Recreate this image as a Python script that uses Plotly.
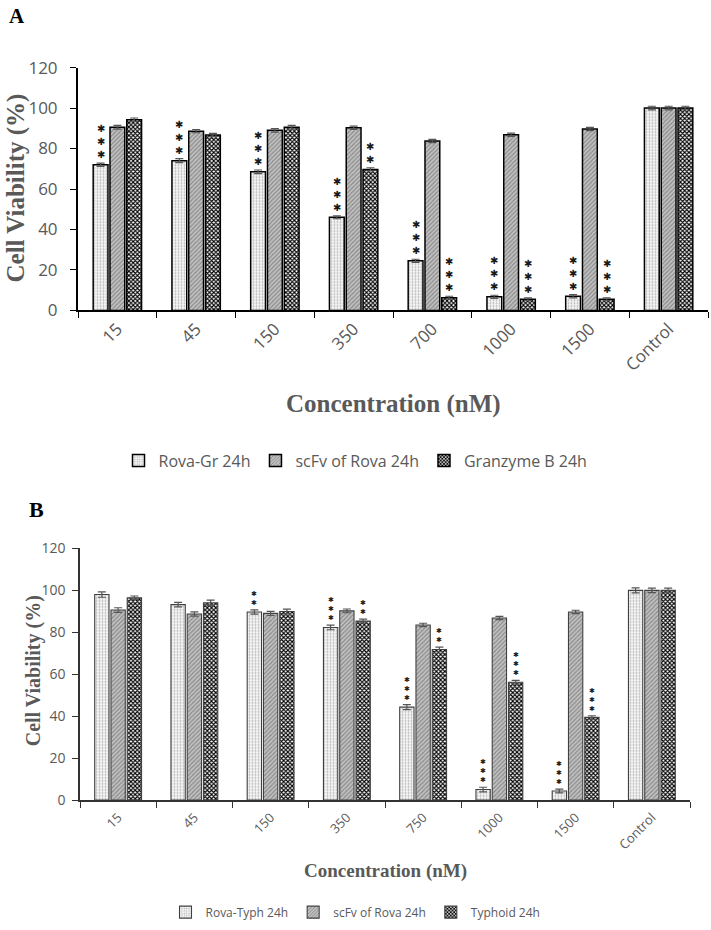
import plotly.graph_objects as go

# ---------------- data ----------------
cats_a = ["15", "45", "150", "350", "700", "1000", "1500", "Control"]
rova_gr = [72.0, 74.0, 68.5, 46.0, 24.5, 6.7, 7.0, 100.0]
scfv_a = [90.5, 88.6, 89.0, 90.3, 83.7, 86.8, 89.7, 100.0]
granzyme = [94.2, 86.7, 90.5, 69.7, 6.3, 5.5, 5.5, 100.0]
rova_gr_err = [0.8, 1.0, 0.9, 0.7, 0.8, 0.8, 0.8, 0.9]
scfv_a_err = [0.9, 0.8, 0.9, 0.8, 0.8, 0.8, 0.8, 0.9]
granzyme_err = [0.9, 0.8, 0.9, 0.8, 0.7, 0.7, 0.7, 0.9]

cats_b = ["15", "45", "150", "350", "750", "1000", "1500", "Control"]
rova_typh = [98.0, 93.2, 89.7, 82.3, 44.3, 5.0, 4.3, 100.0]
scfv_b = [90.6, 88.7, 89.0, 90.2, 83.5, 86.8, 89.7, 100.0]
typhoid = [96.5, 94.0, 89.9, 85.4, 71.8, 56.2, 39.4, 100.0]
rova_typh_err = [1.3, 1.1, 1.0, 1.1, 1.2, 1.1, 0.9, 1.2]
scfv_b_err = [1.1, 1.0, 1.0, 0.9, 0.8, 0.8, 0.8, 1.1]
typhoid_err = [0.8, 1.3, 1.1, 0.9, 1.1, 0.9, 0.8, 1.1]

names_a = ["Rova-Gr 24h", "scFv of Rova 24h", "Granzyme B 24h"]
names_b = ["Rova-Typh 24h", "scFv of Rova 24h", "Typhoid 24h"]

# significance marks: (category index, series index, number of stars)
stars_a = [(0, 0, 3), (1, 0, 3), (2, 0, 3), (3, 0, 3), (3, 2, 2), (4, 0, 3), (4, 2, 3),
           (5, 0, 3), (5, 2, 3), (6, 0, 3), (6, 2, 3)]
stars_b = [(2, 0, 2), (3, 0, 3), (3, 2, 2), (4, 0, 3), (4, 2, 2), (5, 0, 3), (5, 2, 3),
           (6, 0, 3), (6, 2, 3)]

# ---------------- layout geometry ----------------
W, H = 711, 930
def fx(px):
    return px / W
def fy(py):
    return 1 - py / H

A_X0, A_X1, A_YT, A_YB = 78, 708, 57, 306
B_X0, B_X1, B_YT, B_YB = 80, 690, 550, 808
BARGAP = 0.36
BARGROUPGAP = 0.12

GREY = "#595959"
TICKFONT = "Open Sans"
SERIF = "Liberation Serif"

styles = [
    dict(shape=".", bgcolor="#f7f7f7", fgcolor="#b4b4b4", size=3, solidity=0.3),
    dict(shape="/", bgcolor="#c0c0c0", fgcolor="#858585", size=3, solidity=0.35),
    dict(shape="x", bgcolor="#ffffff", fgcolor="#000000", size=3, solidity=0.6),
]

fig = go.Figure()

def add_panel(cats, series, errs, names, xa, ya, legend, line_color, line_w):
    for i, (vals, err, name) in enumerate(zip(series, errs, names)):
        st = styles[i]
        fig.add_trace(go.Bar(
            x=cats, y=vals, name=name, xaxis=xa, yaxis=ya, legend=legend,
            marker=dict(color=st["bgcolor"], line=dict(color=line_color, width=line_w),
                        pattern=dict(shape=st["shape"], fgcolor=st["fgcolor"],
                                     bgcolor=st["bgcolor"], size=st["size"],
                                     solidity=st["solidity"], fillmode="replace")),
            error_y=dict(type="data", array=err, color="#555555", thickness=1.2, width=4),
        ))

add_panel(cats_a, [rova_gr, scfv_a, granzyme], [rova_gr_err, scfv_a_err, granzyme_err],
          names_a, "x", "y", "legend", "#000000", 1.5)
add_panel(cats_b, [rova_typh, scfv_b, typhoid], [rova_typh_err, scfv_b_err, typhoid_err],
          names_b, "x2", "y2", "legend2", "#404040", 1.1)

annotations = []

def star_annots(stars, series, errs, xref, yref, cat_w_px, size, yshift):
    slot = cat_w_px * (1 - BARGAP) / 3
    for ci, si, n in stars:
        y = series[si][ci] + errs[si][ci]
        annotations.append(dict(
            x=ci, y=y, xref=xref, yref=yref, text="<br>".join(["\u2731"] * n),
            showarrow=False, xshift=(si - 1) * slot, yshift=yshift,
            yanchor="bottom", xanchor="center",
            font=dict(family="DejaVu Sans", size=size, color="#1a1a1a")))

star_annots(stars_a, [rova_gr, scfv_a, granzyme], [rova_gr_err, scfv_a_err, granzyme_err],
            "x", "y", (A_X1 - A_X0) / len(cats_a), 10, 1)
star_annots(stars_b, [rova_typh, scfv_b, typhoid], [rova_typh_err, scfv_b_err, typhoid_err],
            "x2", "y2", (B_X1 - B_X0) / len(cats_b), 7, 1)

def label(text, px, py, size, color, angle=0):
    return dict(text=text, x=fx(px), y=fy(py), xref="paper", yref="paper", showarrow=False,
                xanchor="center", yanchor="middle", textangle=angle,
                font=dict(family=SERIF, size=size, color=color))

# panel letters and axis titles
annotations += [
    label("<b>A</b>", 17, 4, 21, "#000000"),
    label("<b>B</b>", 36, 510, 22, "#000000"),
    label("<b>Cell Viability (%)</b>", 16, 181, 25, GREY, -90),
    label("<b>Concentration (nM)</b>", 393, 402, 25, GREY),
    label("<b>Cell Viability (%)</b>", 33, 676, 20, GREY, -90),
    label("<b>Concentration (nM)</b>", 385, 881, 19, GREY),
]

def xaxis(domain, anchor, lw, lc, fsize, n, standoff):
    return dict(domain=domain, anchor=anchor, type="category", range=[-0.5, n - 0.5],
                showline=True, linecolor=lc,
                linewidth=lw, ticks="outside", tickson="boundaries", ticklen=6, tickcolor=lc,
                tickwidth=1.3, tickangle=-45, showgrid=False, zeroline=False,
                tickfont=dict(family=TICKFONT, size=fsize, color=GREY),
                ticklabelstandoff=standoff)

def yaxis(domain, anchor, lw, lc, fsize, standoff):
    return dict(domain=domain, anchor=anchor, range=[0, 120], dtick=20, showline=True,
                linecolor=lc, linewidth=lw, ticks="outside", ticklen=6, tickcolor=lc,
                tickwidth=1.3, showgrid=False, zeroline=False,
                tickfont=dict(family=TICKFONT, size=fsize, color=GREY),
                ticklabelstandoff=standoff)

fig.update_layout(
    width=W, height=H, margin=dict(l=0, r=0, t=0, b=0),
    paper_bgcolor="white", plot_bgcolor="white",
    barmode="group", bargap=BARGAP, bargroupgap=BARGROUPGAP,
    xaxis=xaxis([fx(A_X0), fx(A_X1)], "y", 2, "#000000", 17, len(cats_a), 0),
    yaxis=yaxis([fy(A_YB), fy(A_YT)], "x", 2, "#000000", 17, 9),
    xaxis2=xaxis([fx(B_X0), fx(B_X1)], "y2", 1.5, "#333333", 13, len(cats_b), 3),
    yaxis2=yaxis([fy(B_YB), fy(B_YT)], "x2", 1.5, "#333333", 14, 4),
    legend=dict(orientation="h", x=0.5, xanchor="center", y=fy(460), yanchor="middle",
                font=dict(family=TICKFONT, size=16, color=GREY), bgcolor="rgba(0,0,0,0)"),
    legend2=dict(orientation="h", x=0.5, xanchor="center", y=fy(923), yanchor="middle",
                 font=dict(family=TICKFONT, size=12, color=GREY), bgcolor="rgba(0,0,0,0)"),
    annotations=annotations,
    showlegend=True,
)

fig.write_html("out.html")
